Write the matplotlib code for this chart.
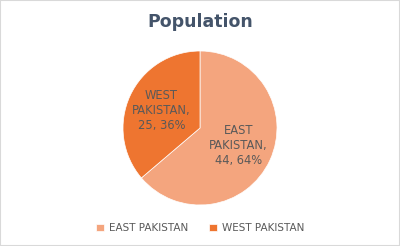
import matplotlib
matplotlib.use('agg')
import matplotlib.pyplot as plt  # noqa: E402
from matplotlib.patches import Rectangle  # noqa: E402

regions = ['EAST PAKISTAN', 'WEST PAKISTAN']
population = [44, 25]
colors = ['#F4A57E', '#EE7530']
text_color = '#595959'
title_color = '#44546A'

fig = plt.figure(figsize=(4.0, 2.46), dpi=100)
fig.patches.append(Rectangle((0, 0), 1, 1, transform=fig.transFigure,
                             fill=False, edgecolor='#D9D9D9', linewidth=1.5))
fig.text(0.5, 1 - 22 / 246, 'Population', ha='center', va='center',
         fontsize=12.5, fontweight='bold', color=title_color)

# pie axes: center ~ (200, 128), radius ~77 px
ax = fig.add_axes([(200 - 77) / 400, 1 - (128 + 77) / 246, 154 / 400, 154 / 246])
total = sum(population)
labels = ['%s,\n%d, %d%%' % (r.replace(' ', '\n', 1), v, round(100.0 * v / total))
          for r, v in zip(regions, population)]
wedges, texts = ax.pie(population, colors=colors, startangle=90, counterclock=False,
                       labels=labels, labeldistance=0.55,
                       wedgeprops=dict(edgecolor='white', linewidth=0.5),
                       textprops=dict(fontsize=8.3, color=text_color, ha='center',
                                      va='center', linespacing=1.2))
ax.set_xlim(-1, 1)
ax.set_ylim(-1, 1)
ax.set_aspect('equal')

fig.legend(wedges, regions, loc='center', bbox_to_anchor=(0.5, 1 - 228 / 246), ncol=2,
           frameon=False, fontsize=7.5, handlelength=0.75, handleheight=0.75,
           columnspacing=2.0, handletextpad=0.5, labelcolor=text_color)

plt.savefig('out.png', dpi=100)
